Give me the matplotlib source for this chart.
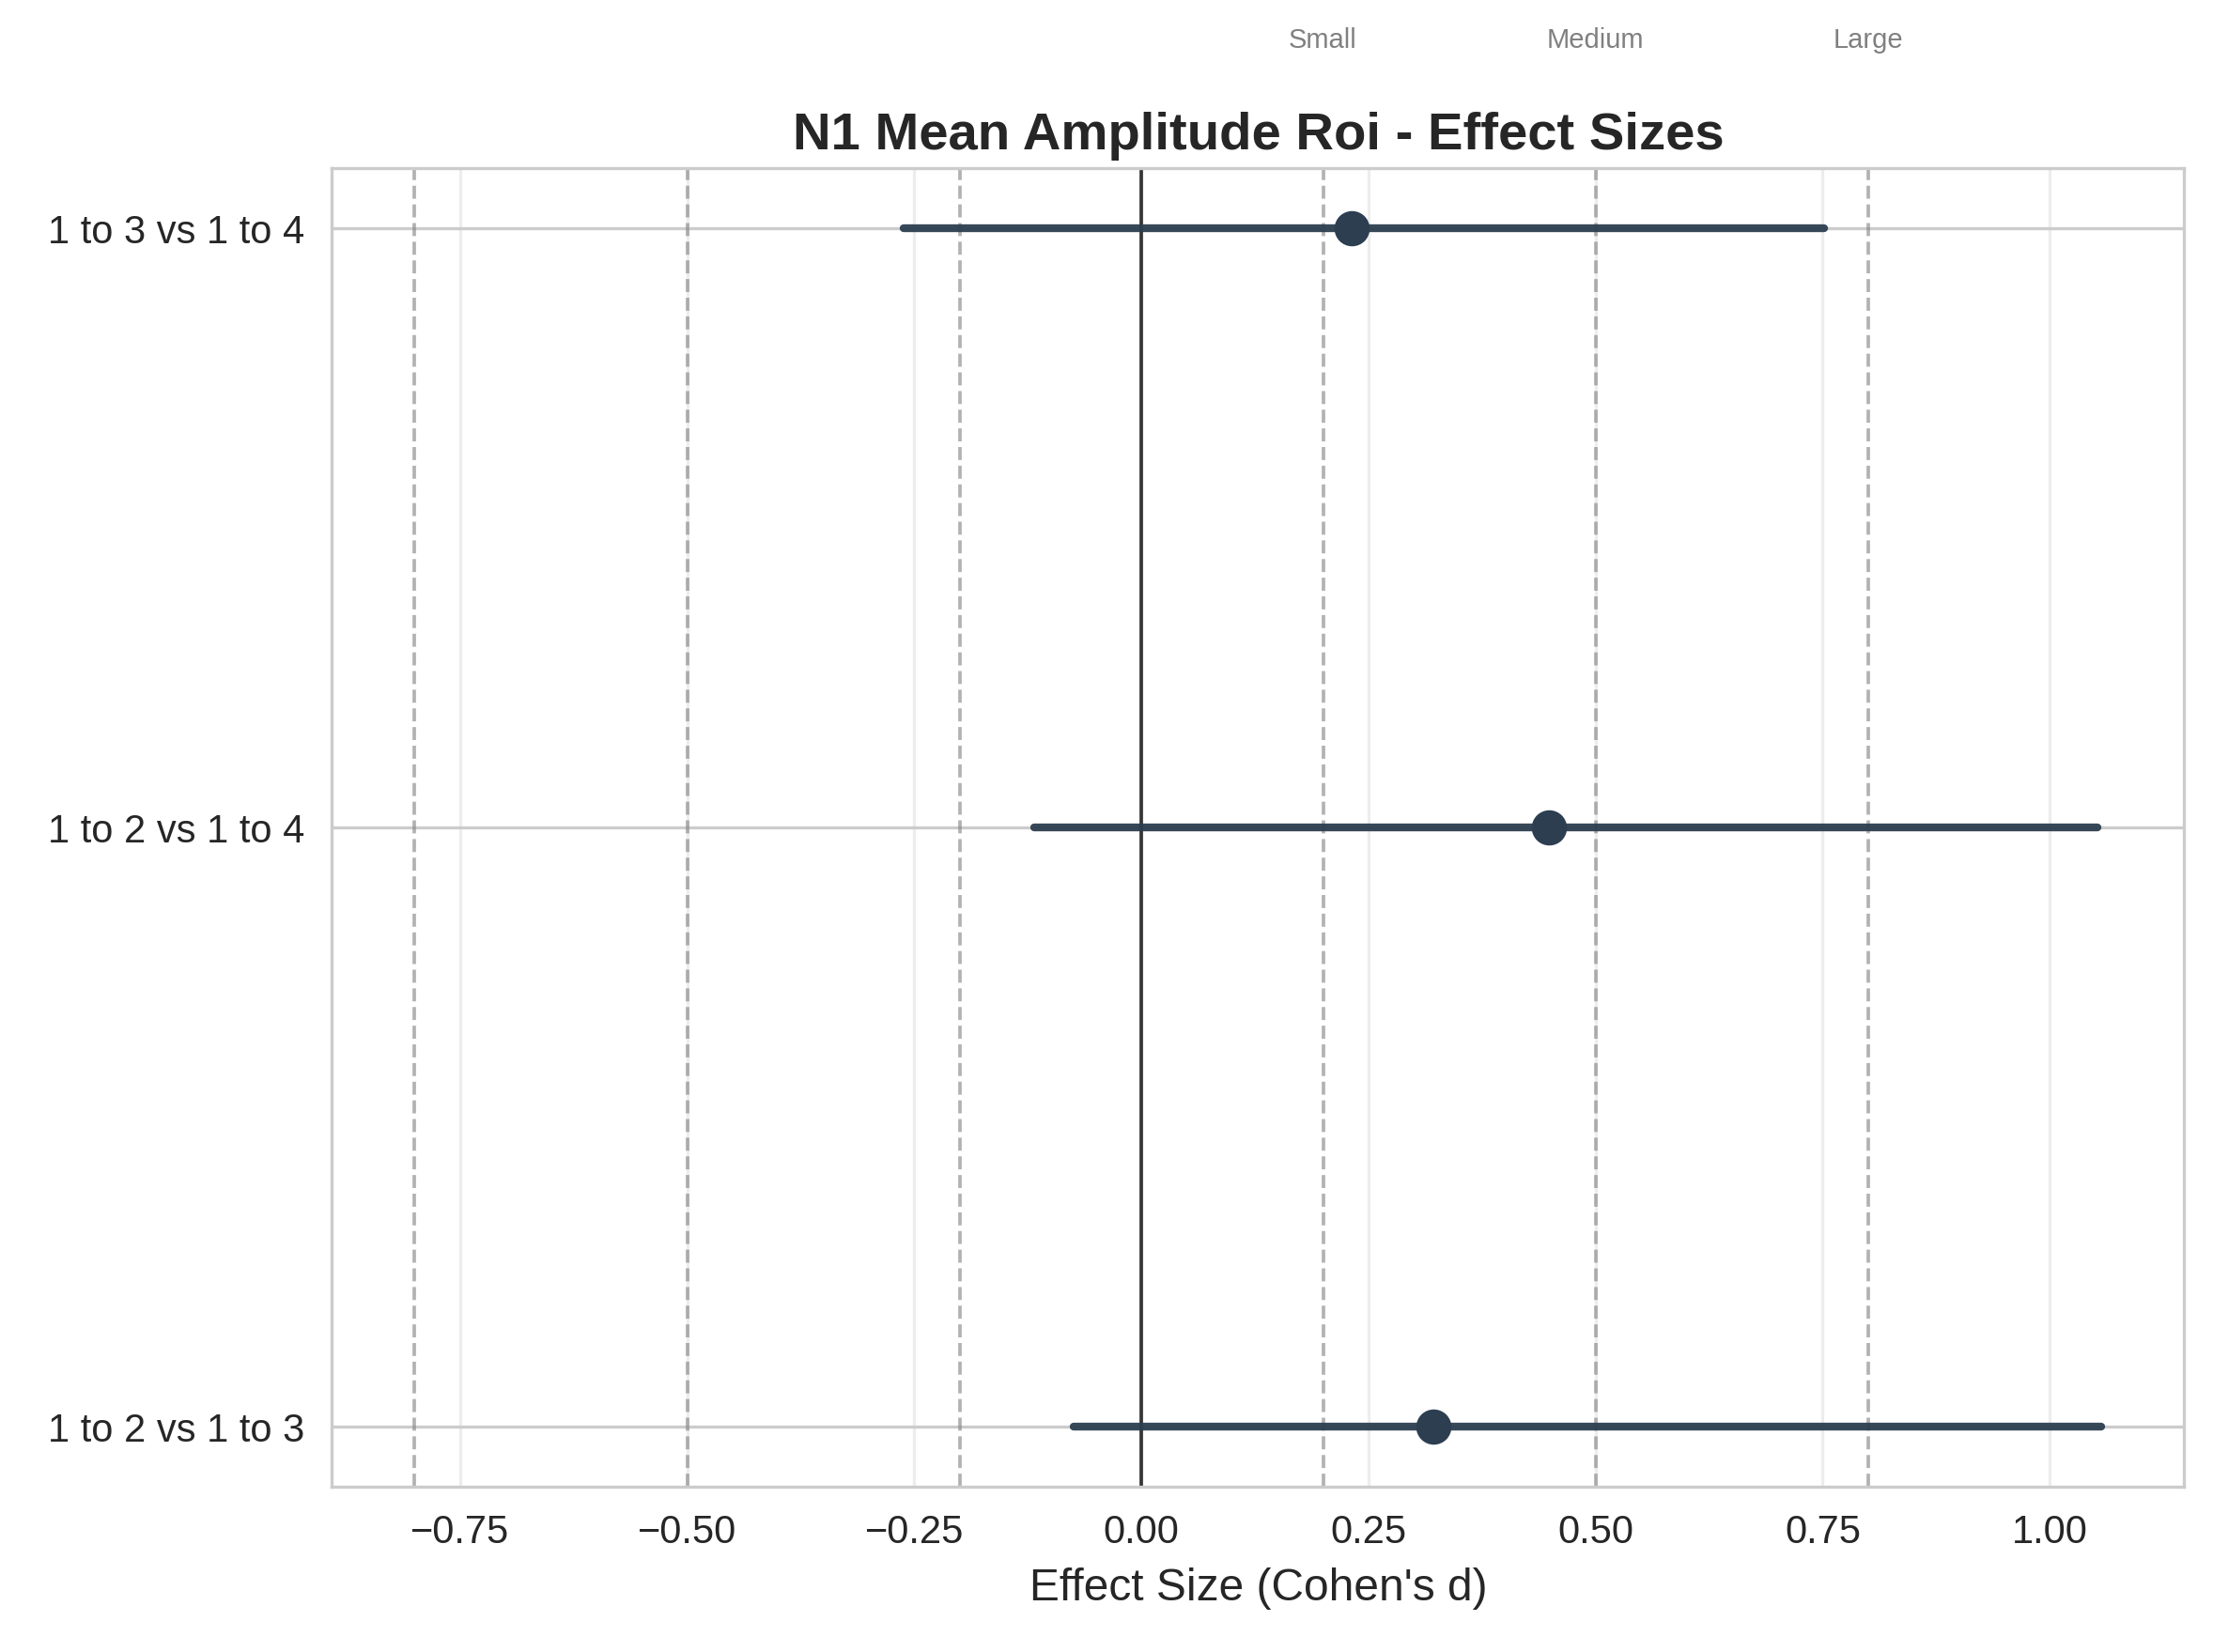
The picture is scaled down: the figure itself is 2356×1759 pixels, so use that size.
import matplotlib
matplotlib.use("Agg")
import matplotlib.pyplot as plt
import matplotlib.transforms as mtransforms
import seaborn as sns

sns.set_style("whitegrid")
plt.rcParams["font.family"] = ["Liberation Sans", "DejaVu Sans"]

comparisons = ["1 to 2 vs 1 to 3", "1 to 2 vs 1 to 4", "1 to 3 vs 1 to 4"]
effect_d = [0.321, 0.449, 0.231]
ci_low = [-0.075, -0.118, -0.262]
ci_high = [1.057, 1.053, 0.752]
thresholds = [0.2, 0.5, 0.8]
threshold_names = ["Small", "Medium", "Large"]

fig, ax = plt.subplots(figsize=(2356 / 300, 1759 / 300), dpi=300)
fig.subplots_adjust(left=0.15, right=0.987, top=0.898, bottom=0.1)

color = "#2c3e50"
ypos = list(range(len(comparisons)))
for y, d, lo, hi in zip(ypos, effect_d, ci_low, ci_high):
    ax.plot([lo, hi], [y, y], color=color, lw=2, alpha=0.95, solid_capstyle="round", zorder=3)
    ax.plot(d, y, "o", color=color, ms=8, zorder=4)

ax.axvline(0, color="#222222", lw=0.9, alpha=0.9)
trans = mtransforms.blended_transform_factory(ax.transData, ax.transAxes)
for t, name in zip(thresholds, threshold_names):
    ax.axvline(t, color="gray", ls="--", lw=0.9, alpha=0.6)
    ax.axvline(-t, color="gray", ls="--", lw=0.9, alpha=0.6)
    ax.text(t, 1.097, name, transform=trans, ha="center", va="center", fontsize=7, color="gray")

ax.set_yticks(ypos)
ax.set_yticklabels(comparisons, fontsize=10)
ax.tick_params(axis="x", labelsize=10)
ax.set_xlim(-0.891, 1.148)
ax.set_ylim(-0.1, 2.1)
ax.grid(axis="x", alpha=0.35)
ax.set_xlabel("Effect Size (Cohen's d)", fontsize=11.5)
ax.set_title("N1 Mean Amplitude Roi - Effect Sizes", fontsize=13.5, fontweight="bold", pad=5)

fig.savefig("out.png", dpi=300)
